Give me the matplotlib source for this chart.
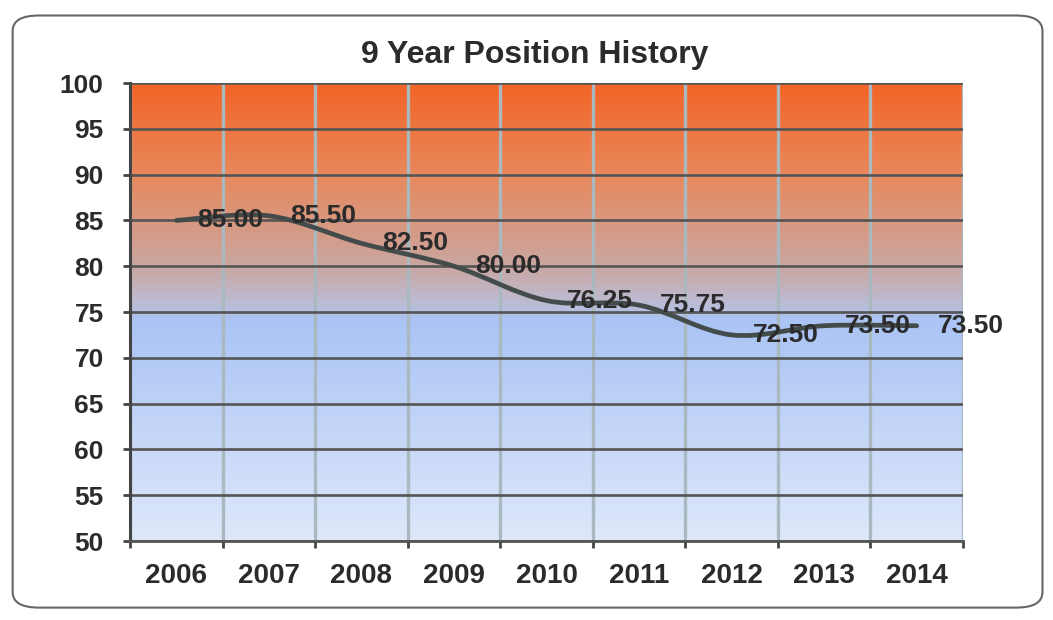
import matplotlib
matplotlib.use('Agg')
import matplotlib.pyplot as plt
import numpy as np
from matplotlib.path import Path
from matplotlib.patches import PathPatch, FancyBboxPatch

years = ['2006', '2007', '2008', '2009', '2010', '2011', '2012', '2013', '2014']
positions = [85.00, 85.50, 82.50, 80.00, 76.25, 75.75, 72.50, 73.50, 73.50]
y_ticks = [50, 55, 60, 65, 70, 75, 80, 85, 90, 95, 100]

TEXT_COLOR = '#2b2b2b'
LINE_COLOR = '#434b4b'
FONT = 'Liberation Sans'


def smooth_path(xs, ys):
    # Excel-like smoothing: Catmull-Rom turned into cubic Bezier segments
    pts = np.column_stack([xs, ys]).astype(float)
    n = len(pts)
    verts = [pts[0]]
    codes = [Path.MOVETO]
    for i in range(n - 1):
        p0 = pts[max(i - 1, 0)]
        p1 = pts[i]
        p2 = pts[i + 1]
        p3 = pts[min(i + 2, n - 1)]
        c1 = p1 + (p2 - p0) / 6.0
        c2 = p2 - (p3 - p1) / 6.0
        verts += [c1, c2, p2]
        codes += [Path.CURVE4] * 3
    return Path(verts, codes)


def background(ax):
    # vertical colour ramp of the plot area (orange on top, blue below)
    stops = [50, 74, 76, 80, 90, 100]
    reds = [222, 170, 188, 202, 232, 243]
    greens = [232, 196, 188, 166, 136, 100]
    blues = [250, 245, 212, 160, 92, 38]
    yy = np.linspace(50, 100, 400)
    col = np.stack([np.interp(yy, stops, reds),
                    np.interp(yy, stops, greens),
                    np.interp(yy, stops, blues)], axis=-1) / 255.0
    img = col[::-1][:, None, :]
    ax.imshow(img, extent=(-0.5, len(years) - 0.5, 50, 100),
              aspect='auto', zorder=0, interpolation='bilinear')


fig = plt.figure(figsize=(10.53, 6.2), dpi=100)
fig.patch.set_facecolor('white')

frame = FancyBboxPatch((0.012, 0.02), 0.978, 0.955,
                       boxstyle='round,pad=0,rounding_size=0.025',
                       transform=fig.transFigure, facecolor='white',
                       edgecolor='#666666', linewidth=1.5, zorder=-1)
fig.patches.append(frame)

ax = fig.add_axes([0.1235, 0.1274, 0.791, 0.7387])
x = np.arange(len(years))
background(ax)

ax.set_xlim(-0.5, len(years) - 0.5)
ax.set_ylim(50, 100)

# gridlines
for b in np.arange(-0.5, len(years), 1.0):
    ax.axvline(b, color='#a9b9bf', linewidth=2.4, zorder=1)
for t in y_ticks:
    ax.axhline(t, color='#555555', linewidth=1.9, zorder=1)

patch = PathPatch(smooth_path(x, positions), facecolor='none',
                  edgecolor=LINE_COLOR, linewidth=3.4, zorder=3,
                  capstyle='round', joinstyle='round')
ax.add_patch(patch)

for xi, yi in zip(x, positions):
    ax.annotate(f'{yi:.2f}', (xi, yi), xytext=(15, 0),
                textcoords='offset points', ha='left', va='center',
                fontsize=19, fontweight='bold', color=TEXT_COLOR,
                family=FONT, zorder=4, annotation_clip=False)

ax.set_yticks(y_ticks)
ax.set_yticklabels([str(t) for t in y_ticks], fontsize=19,
                   fontweight='bold', color=TEXT_COLOR, family=FONT)
ax.set_xticks(x)
ax.set_xticklabels(years, fontsize=20, fontweight='bold',
                   color=TEXT_COLOR, family=FONT)
ax.set_xticks(np.arange(-0.5, len(years), 1.0), minor=True)
ax.tick_params(axis='x', which='major', length=0, pad=16)
ax.tick_params(axis='x', which='minor', length=5, width=2,
               color='#444444', direction='out')
ax.tick_params(axis='y', length=5, width=2, color='#444444', pad=14)

for side in ['top', 'right']:
    ax.spines[side].set_visible(False)
ax.spines['left'].set_color('#444444')
ax.spines['left'].set_linewidth(2.2)
ax.spines['bottom'].set_color('#555555')
ax.spines['bottom'].set_linewidth(2.0)

fig.text(0.508, 0.898, '9 Year Position History', ha='center',
         va='baseline', fontsize=23, fontweight='bold', color=TEXT_COLOR,
         family=FONT)

fig.savefig('out.png', dpi=100, facecolor='white')
